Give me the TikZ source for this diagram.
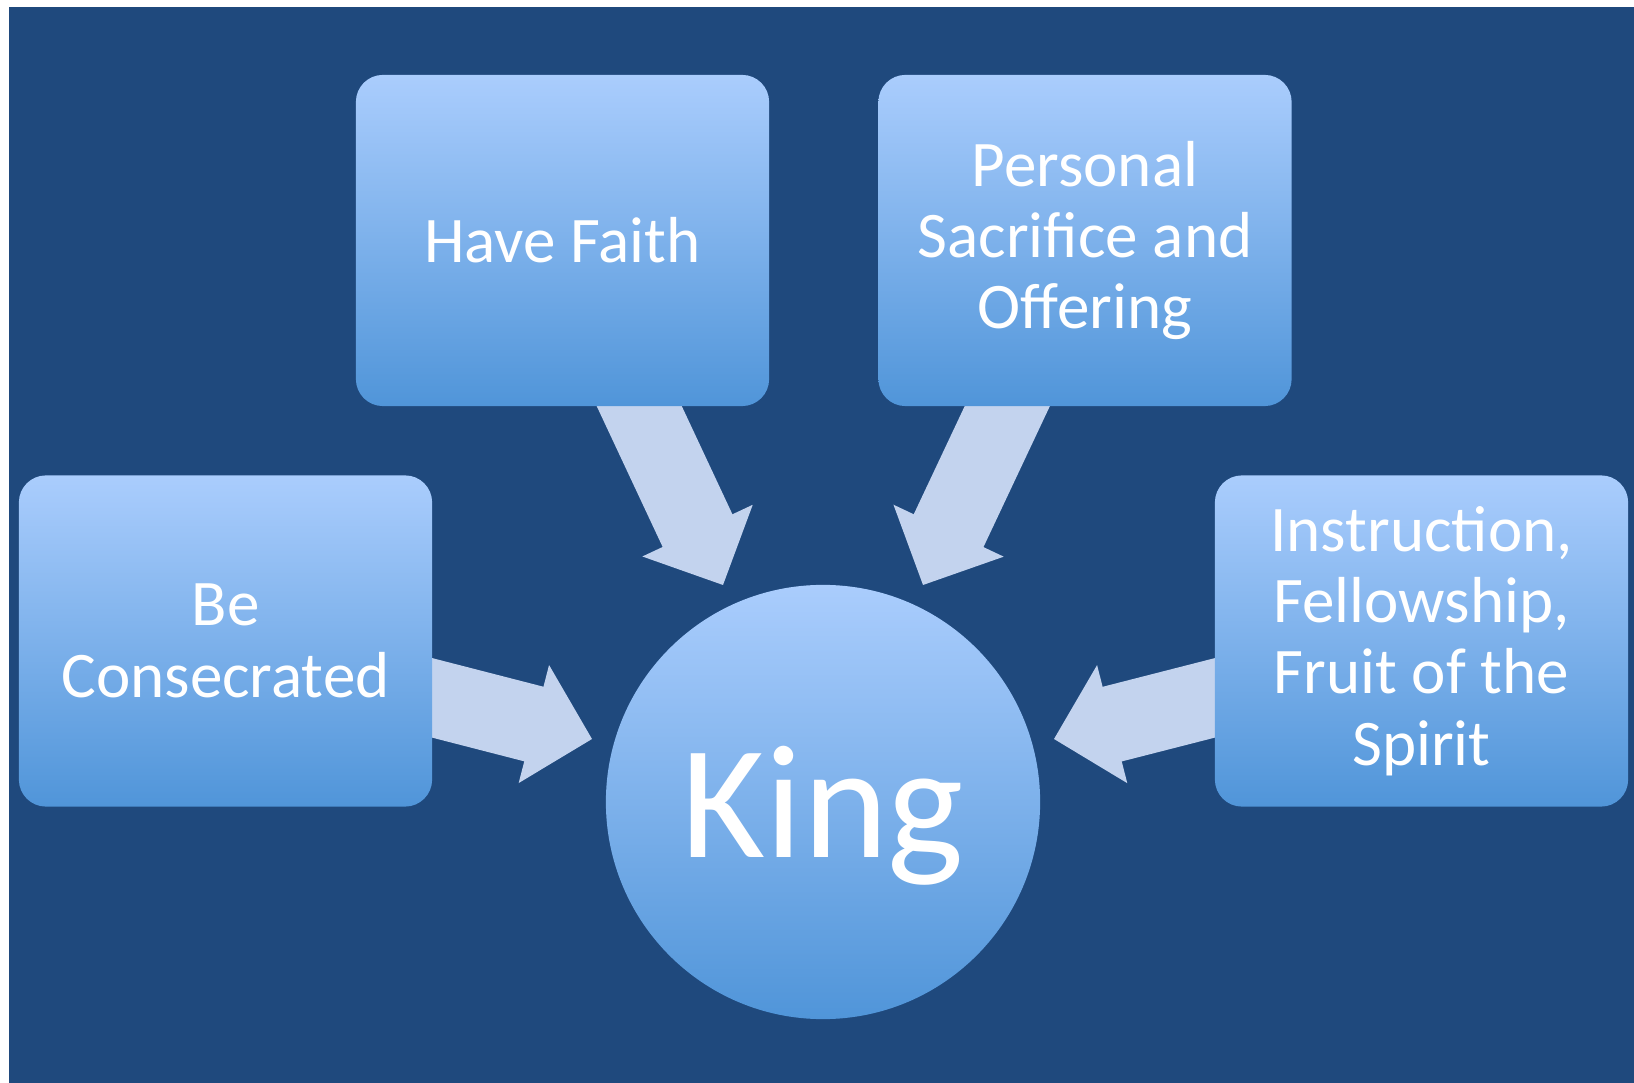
\documentclass[tikz,border=0pt]{standalone}
\usepackage{fontspec}
\setmainfont{Carlito}
\usetikzlibrary{calc,arrows.meta}

\definecolor{slate}{HTML}{1F497D}
\definecolor{boxtop}{HTML}{AACDFD}
\definecolor{boxbot}{HTML}{5095D9}
\definecolor{arrowfill}{HTML}{C3D3EE}

\pgfdeclarelayer{back}
\pgfdeclarelayer{mid}
\pgfsetlayers{back,mid,main}

\tikzset{
  itembox/.style={rectangle, rounded corners=0.27cm, minimum width=4.13cm,
    minimum height=3.31cm, inner sep=0pt, top color=boxtop, bottom color=boxbot,
    draw=none, text=white, align=center, font=\fontsize{18.5}{20.3}\selectfont},
  kingcircle/.style={circle, minimum size=4.34cm, inner sep=0pt,
    top color=boxtop, bottom color=boxbot, draw=none, text=white,
    text depth=0pt, font=\fontsize{46}{50}\selectfont},
  blockarrow/.style={draw=arrowfill, line width=0.77cm,
    -{Triangle[width=1.21cm,length=0.6cm,line width=1.2pt]}}
}

\begin{document}
\begin{tikzpicture}[x=0.01cm,y=-0.01cm]
  \useasboundingbox (0,0) rectangle (1634,1083);
  \begin{pgfonlayer}{back}
    \fill[slate] (9,7) rectangle (1634,1083);
  \end{pgfonlayer}

  % the four steps and the centre
  \node[itembox] (faith) at (562.5,240.5) {Have Faith};
  \node[itembox] (sacrifice) at (1085,240.5) {Personal\\Sacrifice and\\Offering};
  \node[itembox] (consecrated) at (225.5,641) {Be\\Consecrated};
  \node[itembox] (instruction) at (1421.5,641) {Instruction,\\Fellowship,\\Fruit of the\\Spirit};
  \node[kingcircle] (king) at (823,802) {King};

  \coordinate (tipF) at (723,585);
  \coordinate (tipS) at (923,585);
  \coordinate (tipC) at (592,739);
  \coordinate (tipI) at (1054,739);

  % arrows go behind the boxes
  \begin{pgfonlayer}{mid}
    \draw[blockarrow] ($(tipF)!1.25!([xshift=0.77cm]faith.south)$) -- (tipF);
    \draw[blockarrow] ($(tipS)!1.25!([xshift=-0.78cm]sacrifice.south)$) -- (tipS);
    \draw[blockarrow] ($(tipC)!1.3!([yshift=-0.57cm]consecrated.east)$) -- (tipC);
    \draw[blockarrow] ($(tipI)!1.3!([yshift=-0.57cm]instruction.west)$) -- (tipI);
  \end{pgfonlayer}
\end{tikzpicture}
\end{document}
